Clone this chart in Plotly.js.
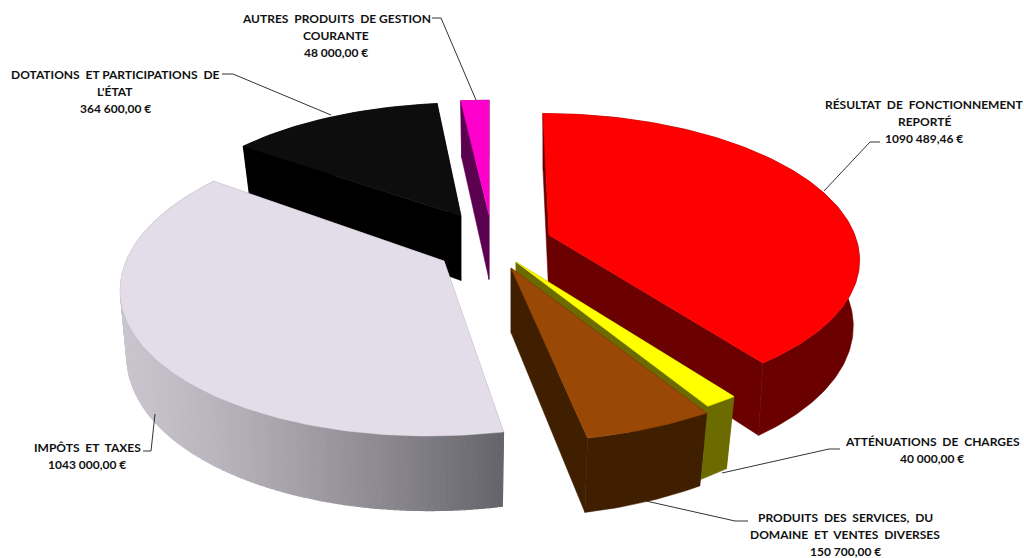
<!DOCTYPE html>
<html><head><meta charset="utf-8">
<script src="https://cdn.plot.ly/plotly-3.0.1.min.js"></script>
<style>html,body{margin:0;padding:0;background:#fff}#c{width:1024px;height:558px}</style>
</head><body><div id="c"></div>
<script>
// Data
const categories = [
  "RÉSULTAT  DE  FONCTIONNEMENT|REPORTÉ",
  "ATTÉNUATIONS  DE  CHARGES",
  "PRODUITS  DES  SERVICES,  DU|DOMAINE  ET  VENTES  DIVERSES",
  "IMPÔTS  ET  TAXES",
  "DOTATIONS  ET PARTICIPATIONS  DE|L'ÉTAT",
  "AUTRES  PRODUITS  DE GESTION|COURANTE"
];
const values = [1090489.46, 40000, 150700, 1043000, 364600, 48000];

// Styles
const topColors  = ["#FF0000", "#FFFF00", "#994805", "#E2DDE9", "#0D0D0D", "#FF00CC"];
const wallColors = ["#6A0000", "#6B6B00", "#3F1F00", "#8f8b94", "#000000", "#5C0050"];

// Oblique view of the exploded pie
const Rx = 312, Ry = 140, P = 0.152, D = 64.5, K = 0.88;
const apex   = [[549,235],[516,262],[511,268],[444,261],[461,216],[489,215]];
const scaleX = [0.98, 1.03, 1.05, 1.018, 0.948, 0.95];
const scaleY = [1, 1.05, 1.055, 1.06, 0.93, 0.945];
const shear  = [0.05, 0, 0, -0.086, -0.039, 0];
const shrink = [0.98, 0.965, 0.965, 0.98, 0.965, 0.965];
const drawOrder = [5, 4, 0, 3, 1, 2];

// Label placement
const labelCentre = [[924,104],[932,441],[845,517],[87,447],[115,74],[336,18]];
const leaders = [
  [[880,142],[870,142],[824,191]],
  [[840,449],[829,449],[722,473]],
  [[748,521],[735,521],[646,501]],
  [[143,451],[151,451],[155,414]],
  [[222,74],[233,74],[331,115]],
  [[432,18],[441,18],[476,100]]
];

const total = values.reduce((a,b)=>a+b,0);
const rad = d => d*Math.PI/180;
function proj(i, th, lower){
  const c = Math.cos(rad(th)), sn = Math.sin(rad(th));
  const s = 1/(1+P*c);
  const yy = -Ry*c*s*scaleY[i];
  let x = Rx*sn*s*scaleX[i] + shear[i]*yy, y = yy;
  if(lower){ x*=shrink[i]; y += D*Math.pow(s,K); }
  return [apex[i][0]+x, apex[i][1]+y];
}
const tipLow = i => [apex[i][0], apex[i][1]+D];
function poly(pts, color, width){
  const xs = pts.map(p=>p[0]).concat(pts[0][0]);
  const ys = pts.map(p=>p[1]).concat(pts[0][1]);
  return {type:"scatter",mode:"lines",x:xs,y:ys,fill:"toself",fillcolor:color,
          line:{color:color,width:width||0.5},hoverinfo:"skip",showlegend:false};
}
const mix=(a,b,t)=>a.map((v,k)=>Math.round(v+(b[k]-v)*t));
const traces = [];
let acc = 0;
const spans = values.map(v=>{const a=acc; acc+=v/total*360; return [a,acc];});

drawOrder.forEach(i=>{
  const [a,b] = spans[i];
  const w = wallColors[i];
  const A = apex[i], AL = tipLow(i);
  // two cut faces
  traces.push(poly([A, proj(i,a,false), proj(i,a,true), AL], w));
  traces.push(poly([A, proj(i,b,false), proj(i,b,true), AL], w));
  // rim
  const m = Math.max(4, Math.ceil(b-a));
  if(i===3){
    for(let k=0;k<m;k++){
      const t0=a+(b-a)*k/m, t1=a+(b-a)*(k+1)/m;
      const x = (proj(i,(t0+t1)/2,false)[0]-121)/(503-121);
      const c = mix([201,196,205],[102,100,107],Math.pow(Math.max(0,x),1.25));
      const col = `rgb(${c.join(",")})`;
      traces.push(poly([proj(i,t1,false),proj(i,t0,false),proj(i,t0,true),proj(i,t1,true)],col,1.2));
    }
  } else {
    const up=[], lo=[];
    for(let k=0;k<=m;k++){
      const t=a+(b-a)*k/m;
      up.push(proj(i,t,false)); lo.unshift(proj(i,t,true));
    }
    traces.push(poly(up.concat(lo), w));
  }
  // top face
  const top=[A];
  for(let k=0;k<=m;k++) top.push(proj(i,a+(b-a)*k/m,false));
  traces.push(poly(top, topColors[i]));
});

leaders.forEach(l=>traces.push({type:"scatter",mode:"lines",x:l.map(p=>p[0]),y:l.map(p=>p[1]),
  line:{color:"#333",width:1},hoverinfo:"skip",showlegend:false}));

const money = v => {
  const [e,d] = v.toFixed(2).split(".");
  return e.replace(/\B(?=(\d{3})(?!\d))/g,"\u00A0")+","+d+"\u00A0€";
};
const LINE = 17.4;
const annotations = [];
categories.forEach((c,i)=>{
  const lines = c.split("|").map(s=>s.replace(/ /g,"\u00A0")).concat(money(values[i]));
  lines.forEach((t,j)=>annotations.push({
    x:labelCentre[i][0], y:labelCentre[i][1]+j*LINE, xref:"x", yref:"y",
    text:"<b>"+t+"</b>", showarrow:false, xanchor:"center", yanchor:"middle",
    font:{family:"Lato, 'Open Sans', sans-serif",size:12,color:"#111"}
  }));
});

Plotly.newPlot("c",traces,{
  width:1024,height:558,margin:{l:0,r:0,t:0,b:0},
  paper_bgcolor:"#fff",plot_bgcolor:"#fff",showlegend:false,
  xaxis:{range:[0,1024],visible:false,fixedrange:true},
  yaxis:{range:[558,0],visible:false,fixedrange:true},
  annotations
},{displayModeBar:false,staticPlot:true});
</script></body></html>
